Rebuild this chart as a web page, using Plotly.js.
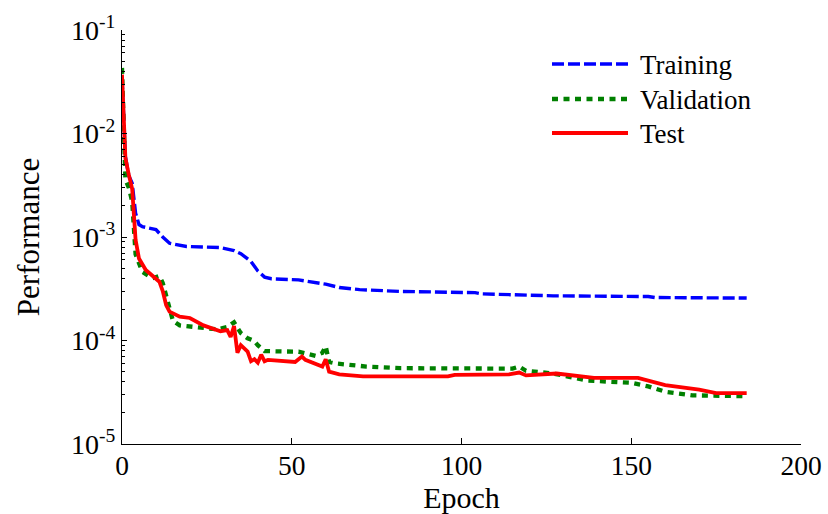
<!DOCTYPE html>
<html>
<head>
<meta charset="utf-8">
<script src="https://cdn.plot.ly/plotly-3.0.1.min.js"></script>
<style>
  html, body { margin: 0; padding: 0; background: #fff; }
  #chart { width: 828px; height: 514px; }
</style>
</head>
<body>
<div id="chart"></div>
<script>
// Mean squared error per training epoch for the three data subsets
var trainEpochs = [0, 1, 2, 3, 4, 5, 6, 10, 12, 14, 19, 29, 33, 35, 38, 40, 42, 44, 52, 55, 60, 64, 70, 82, 88, 104, 106, 125, 127, 155, 157, 184];
var trainPerf   = [0.035, 6.0e-3, 3.9e-3, 3.3e-3, 1.7e-3, 1.32e-3, 1.26e-3, 1.18e-3, 1.0e-3, 8.7e-4, 8.1e-4, 7.9e-4, 7.4e-4, 6.9e-4, 5.8e-4, 4.7e-4, 4.1e-4, 3.95e-4, 3.85e-4, 3.7e-4, 3.5e-4, 3.25e-4, 3.1e-4, 2.98e-4, 2.95e-4, 2.9e-4, 2.82e-4, 2.75e-4, 2.7e-4, 2.66e-4, 2.6e-4, 2.57e-4];

var valEpochs = [0, 1, 2, 3, 4, 5, 6, 9, 11, 12, 13, 14, 15, 17, 23, 28, 31, 33, 35, 37, 39, 40, 42, 52, 57, 59, 60, 61, 63, 72, 82, 94, 96, 115, 117, 119, 127, 137, 150, 155, 160, 168, 184];
var valPerf   = [0.043, 3.6e-3, 3.0e-3, 2.2e-3, 6.8e-4, 5.5e-4, 4.6e-4, 4.0e-4, 4.2e-4, 3.6e-4, 2.7e-4, 1.9e-4, 1.55e-4, 1.4e-4, 1.32e-4, 1.28e-4, 1.35e-4, 1.5e-4, 1.18e-4, 1.05e-4, 9.9e-5, 9.0e-5, 7.9e-5, 7.8e-5, 7.1e-5, 7.6e-5, 8.8e-5, 6.2e-5, 6.0e-5, 5.6e-5, 5.4e-5, 5.4e-5, 5.3e-5, 5.35e-5, 5.6e-5, 5.1e-5, 4.8e-5, 4.1e-5, 3.9e-5, 3.6e-5, 3.2e-5, 2.95e-5, 2.9e-5];

var testEpochs = [0, 1, 2, 3, 4, 5, 7, 10, 11, 12, 13, 14, 17, 20, 24, 29, 31, 32, 33, 34, 35, 37, 38, 39, 40, 41, 42, 43, 51, 53, 54, 59, 60, 61, 64, 71, 96, 98, 114, 117, 119, 128, 139, 152, 160, 170, 175, 184];
var testPerf   = [0.037, 5.8e-3, 4.0e-3, 2.9e-3, 9.4e-4, 6.2e-4, 4.8e-4, 4.0e-4, 3.7e-4, 3.0e-4, 2.2e-4, 1.9e-4, 1.7e-4, 1.65e-4, 1.4e-4, 1.23e-4, 1.26e-4, 1.08e-4, 1.38e-4, 7.6e-5, 9.0e-5, 7.8e-5, 6.3e-5, 6.6e-5, 6.1e-5, 7.3e-5, 6.3e-5, 6.5e-5, 6.2e-5, 7.0e-5, 6.5e-5, 5.6e-5, 6.6e-5, 5.0e-5, 4.7e-5, 4.5e-5, 4.5e-5, 4.65e-5, 4.7e-5, 4.9e-5, 4.6e-5, 4.8e-5, 4.35e-5, 4.35e-5, 3.7e-5, 3.35e-5, 3.1e-5, 3.1e-5];

var seriesNames = ['Training', 'Validation', 'Test'];

// Axis ticks
var xTickVals = [0, 50, 100, 150, 200];
var xTickText = ['0', '50', '100', '150', '200'];
var yTickVals = [1e-5, 1e-4, 1e-3, 1e-2, 1e-1];
var yTickText = ['10<sup>-5</sup>', '10<sup>-4</sup>', '10<sup>-3</sup>', '10<sup>-2</sup>', '10<sup>-1</sup>'];

// minor log ticks 2..9 within each decade
var yMinorVals = [];
for (var e = -5; e <= -2; e++) {
  for (var k = 2; k <= 9; k++) yMinorVals.push(k * Math.pow(10, e));
}

var serif = 'Liberation Serif, Times New Roman, Times, serif';

var styles = [
  {color: '#0000ff', width: 3.4, dash: '12px,4px'},
  {color: '#008000', width: 4.3, dash: '6px,5.5px'},
  {color: '#ff0000', width: 3.8, dash: 'solid'}
];
var xs = [trainEpochs, valEpochs, testEpochs];
var ys = [trainPerf, valPerf, testPerf];

var traces = [];
for (var i = 0; i < 3; i++) {
  traces.push({
    type: 'scatter', mode: 'lines', name: seriesNames[i],
    x: xs[i], y: ys[i],
    line: {color: styles[i].color, width: styles[i].width, dash: styles[i].dash},
    hoverinfo: 'x+y+name'
  });
}

// Legend drawn with long sample lines, top-right inside the axes
var margin = {l: 122, r: 27, t: 30, b: 70};
var plotW = 828 - margin.l - margin.r;
var plotH = 514 - margin.t - margin.b;
function px2x(px) { return (px - margin.l) / plotW; }
function py2y(py) { return (514 - margin.b - py) / plotH; }

var legendRows = [64, 99, 133];
var shapes = [], annotations = [];
for (var j = 0; j < 3; j++) {
  shapes.push({
    type: 'line', xref: 'paper', yref: 'paper',
    x0: px2x(552), x1: px2x(628), y0: py2y(legendRows[j]), y1: py2y(legendRows[j]),
    line: {color: styles[j].color, width: styles[j].width, dash: styles[j].dash}
  });
  annotations.push({
    xref: 'paper', yref: 'paper', x: px2x(638), y: py2y(legendRows[j] + 1),
    xanchor: 'left', yanchor: 'middle', showarrow: false,
    text: seriesNames[j], font: {family: serif, size: 27, color: '#000'}
  });
}

var layout = {
  width: 828, height: 514,
  margin: margin,
  paper_bgcolor: '#fff', plot_bgcolor: '#fff',
  font: {family: serif, color: '#000'},
  showlegend: false,
  xaxis: {
    range: [0, 200], tickmode: 'array', tickvals: xTickVals, ticktext: xTickText,
    ticks: 'inside', ticklen: 6, tickwidth: 1, tickcolor: '#000',
    ticklabelstandoff: -3,
    showline: true, linecolor: '#000', linewidth: 1, mirror: false,
    showgrid: false, zeroline: false,
    tickfont: {family: serif, size: 27.5, color: '#000'},
    title: {text: 'Epoch', font: {family: serif, size: 30, color: '#000'}, standoff: 12}
  },
  yaxis: {
    type: 'log', range: [-5, -1], tickmode: 'array', tickvals: yTickVals, ticktext: yTickText,
    ticks: 'inside', ticklen: 5, tickwidth: 1, tickcolor: '#000',
    minor: {tickmode: 'array', tickvals: yMinorVals, ticks: 'inside', ticklen: 3, tickcolor: '#000', showgrid: false},
    showline: true, linecolor: '#000', linewidth: 1, mirror: false,
    showgrid: false, zeroline: false,
    tickfont: {family: serif, size: 28, color: '#000'},
    title: {text: 'Performance', font: {family: serif, size: 31, color: '#000'}, standoff: 22}
  },
  shapes: shapes,
  annotations: annotations
};

Plotly.newPlot('chart', traces, layout, {displayModeBar: false, staticPlot: true});
</script>
</body>
</html>
